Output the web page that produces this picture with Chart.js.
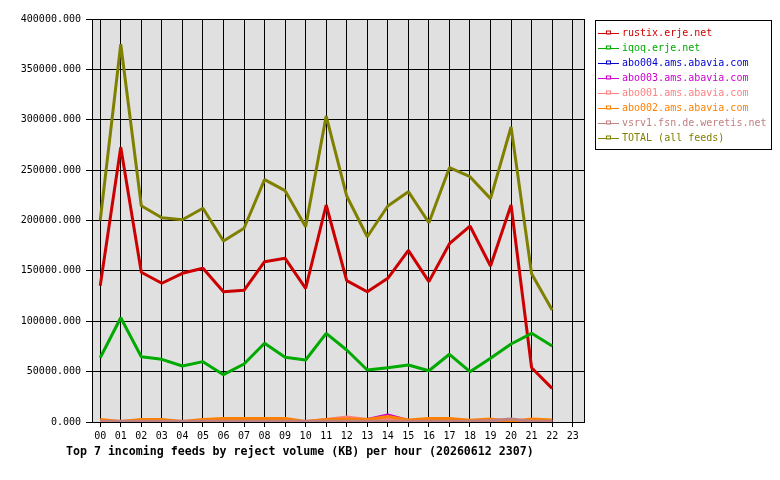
<!DOCTYPE html>
<html>
<head>
<meta charset="utf-8">
<script src="https://cdn.jsdelivr.net/npm/chart.js@4"></script>
<style>
  html, body { margin: 0; padding: 0; background: #fff; }
  #wrap { width: 780px; height: 480px; }
</style>
</head>
<body>
<div id="wrap"><canvas id="feedChart" width="780" height="480"></canvas></div>
<script>
// horas do dia (eixo X) e rótulos
const hours = [0, 1, 2, 3, 4, 5, 6, 7, 8, 9, 10, 11, 12, 13, 14, 15, 16, 17, 18, 19, 20, 21, 22];
const hourLabels = ['00', '01', '02', '03', '04', '05', '06', '07', '08', '09', '10', '11',
                    '12', '13', '14', '15', '16', '17', '18', '19', '20', '21', '22', '23'];

const feedNames = ['rustix.erje.net', 'iqoq.erje.net', 'abo004.ams.abavia.com', 'abo003.ams.abavia.com',
                   'abo001.ams.abavia.com', 'abo002.ams.abavia.com', 'vsrv1.fsn.de.weretis.net', 'TOTAL (all feeds)'];
const feedColors = ['#CC0000', '#00AA00', '#0000CC', '#CC00CC', '#FF8080', '#FF8000', '#C08080', '#808000'];

// volumes em KB por hora
const rustix = [135300, 272700, 148600, 137700, 147600, 152600, 129300, 130700, 159100, 162500, 132700, 215400,
                140300, 129300, 142600, 170400, 139300, 177000, 194500, 154800, 215400, 53900, 33400];
const iqoq   = [63800, 103500, 64800, 62200, 55600, 59900, 47000, 57600, 78100, 64200, 61500, 88000,
                71500, 51600, 53900, 56600, 50900, 67200, 49900, 63200, 77400, 88000, 75400];
const abo004 = [100, 100, 100, 100, 100, 100, 100, 100, 100, 100, 100, 100,
                100, 100, 300, 100, 100, 100, 100, 100, 100, 100, 100];
const abo003 = [200, 200, 200, 200, 200, 200, 200, 200, 200, 200, 200, 300,
                800, 2500, 7000, 1500, 300, 200, 200, 200, 200, 200, 200];
const abo001 = [300, 300, 300, 300, 300, 300, 300, 300, 300, 300, 300, 2500,
                5000, 2500, 3000, 1000, 500, 500, 300, 300, 300, 300, 300];
const abo002 = [2500, 500, 2500, 2500, 500, 2500, 3500, 3500, 3500, 3500, 500, 2500,
                3000, 2500, 5500, 2000, 3500, 3500, 1800, 3000, 500, 3000, 2000];
const vsrv1  = [700, 700, 700, 700, 700, 700, 700, 700, 700, 700, 700, 700,
                700, 700, 700, 700, 700, 700, 700, 1500, 3000, 700, 700];
const total  = [200000, 374900, 214700, 202800, 200800, 212100, 179700, 192300, 240500, 229600, 193900, 303700,
                224300, 183900, 214400, 228600, 197800, 252400, 243500, 221700, 292800, 147200, 111200];

const yTicks = [0, 50000, 100000, 150000, 200000, 250000, 300000, 350000, 400000];
const chartTitle = 'Top 7 incoming feeds by reject volume (KB) per hour (20260612 2307)';

const series = [rustix, iqoq, abo004, abo003, abo001, abo002, vsrv1, total];

const monoFont = '"DejaVu Sans Mono", "Liberation Mono", monospace';

// fundo cinza da área do gráfico + borda
const plotBackground = {
    id: 'plotBackground',
    beforeDraw(chart) {
        const { ctx, chartArea: a } = chart;
        ctx.save();
        ctx.fillStyle = '#E0E0E0';
        ctx.fillRect(a.left, a.top, a.right - a.left, a.bottom - a.top);
        ctx.restore();
    },
    afterDraw(chart) {
        const { ctx, chartArea: a } = chart;
        ctx.save();
        ctx.strokeStyle = '#000';
        ctx.lineWidth = 1;
        ctx.strokeRect(Math.round(a.left) + 0.5, Math.round(a.top) + 0.5,
                       Math.round(a.right - a.left), Math.round(a.bottom - a.top));
        ctx.restore();
    }
};

// legenda desenhada à mão (caixa com borda, texto colorido)
const boxLegend = {
    id: 'boxLegend',
    afterDraw(chart) {
        const ctx = chart.ctx;
        const a = chart.chartArea;
        const bx = a.right + 11, by = a.top + 1;
        const bw = 176, bh = 129;
        ctx.save();
        ctx.fillStyle = '#fff';
        ctx.fillRect(bx, by, bw, bh);
        ctx.strokeStyle = '#000';
        ctx.lineWidth = 1;
        ctx.strokeRect(bx + 0.5, by + 0.5, bw, bh);
        ctx.font = '10px ' + monoFont;
        ctx.textBaseline = 'middle';
        chart.data.datasets.forEach((ds, i) => {
            const y = Math.round(by + 13 + i * 15) + 0.5;
            ctx.strokeStyle = ds.borderColor;
            ctx.beginPath();
            ctx.moveTo(bx + 3, y);
            ctx.lineTo(bx + 24, y);
            ctx.stroke();
            ctx.fillStyle = '#fff';
            ctx.fillRect(bx + 12, y - 2, 3, 2);
            ctx.strokeRect(bx + 11.5, y - 2.5, 4, 3);
            ctx.fillStyle = ds.borderColor;
            ctx.fillText(ds.label, bx + 27, y);
        });
        ctx.restore();
    }
};

const bottomTitle = {
    id: 'bottomTitle',
    afterDraw(chart) {
        const ctx = chart.ctx;
        ctx.save();
        ctx.font = 'bold 11.6px ' + monoFont;
        ctx.fillStyle = '#000';
        ctx.textBaseline = 'middle';
        ctx.fillText(chartTitle, 66, 452);
        ctx.restore();
    }
};

const datasets = series.map((vals, i) => ({
    label: feedNames[i],
    data: vals.map((v, j) => ({ x: hours[j], y: v })),
    borderColor: feedColors[i],
    backgroundColor: feedColors[i],
    borderWidth: 3,
    borderJoinStyle: 'bevel',
    pointRadius: 0,
    tension: 0,
    fill: false,
    order: series.length - i
}));

const ctxFeed = document.getElementById('feedChart').getContext('2d');
const feedChart = new Chart(ctxFeed, {
    type: 'line',
    data: { datasets },
    options: {
        animation: false,
        responsive: false,
        devicePixelRatio: 1,
        layout: { padding: { top: 19, right: 196, bottom: 0, left: 0 } },
        plugins: {
            legend: { display: false },
            tooltip: { enabled: false },
            title: { display: false }
        },
        scales: {
            x: {
                type: 'linear',
                min: -0.4,
                max: 23.55,
                afterFit: (s) => { s.height = 58; },
                afterBuildTicks: (s) => { s.ticks = hourLabels.map((_, i) => ({ value: i })); },
                ticks: {
                    includeBounds: false,
                    autoSkip: false,
                    maxRotation: 0,
                    padding: 3,
                    color: '#000',
                    font: { family: monoFont, size: 10 },
                    callback: (v) => hourLabels[v]
                },
                grid: { color: '#000', lineWidth: 1, tickLength: 5, drawTicks: true },
                border: { display: true, color: '#000' }
            },
            y: {
                min: 0,
                max: 400000,
                afterFit: (s) => { s.width = 92; },
                afterBuildTicks: (s) => { s.ticks = yTicks.map((v) => ({ value: v })); },
                ticks: {
                    padding: 5,
                    color: '#000',
                    font: { family: monoFont, size: 10 },
                    callback: (v) => Number(v).toFixed(3)
                },
                grid: { color: '#000', lineWidth: 1, tickLength: 6, drawTicks: true },
                border: { display: true, color: '#000' }
            }
        }
    },
    plugins: [plotBackground, boxLegend, bottomTitle]
});
</script>
</body>
</html>
